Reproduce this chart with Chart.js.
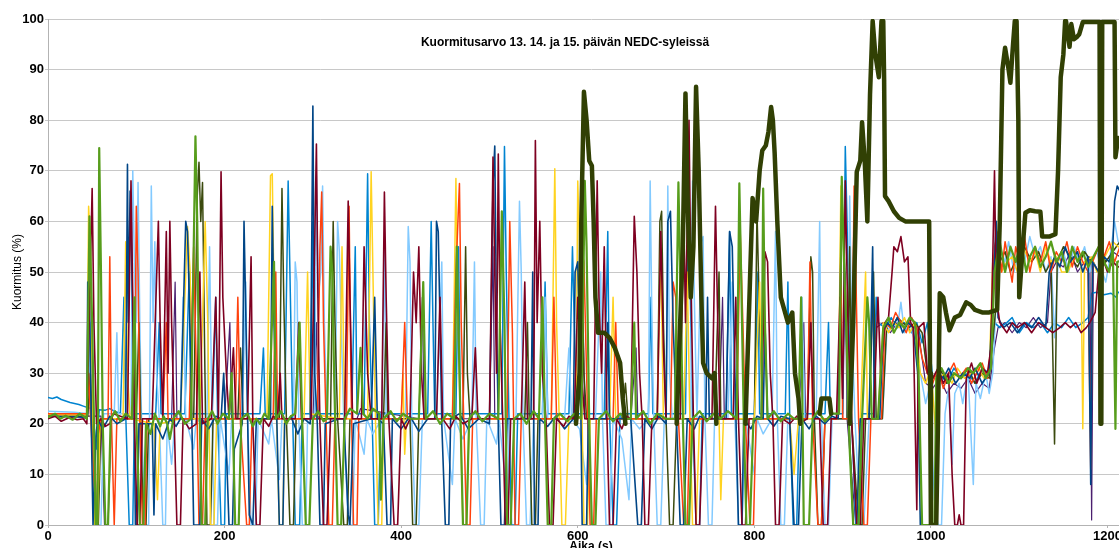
<!DOCTYPE html>
<html>
<head>
<meta charset="utf-8">
<script src="https://cdn.jsdelivr.net/npm/chart.js@4/dist/chart.umd.min.js"></script>
<style>
html,body{margin:0;padding:0;background:#fff;overflow:hidden;}
#wrap{position:relative;width:1119px;height:548px;overflow:hidden;}
#c{position:absolute;left:0;top:0;}
</style>
</head>
<body>
<div id="wrap"><canvas id="c" width="1134" height="560"></canvas></div>
<script>
// ---- chart texts ----
const chartTitle = "Kuormitusarvo 13. 14. ja 15. päivän NEDC-syleissä";
const xTitle = "Aika (s)";
const yTitle = "Kuormitus (%)";
const xTicks = [0, 200, 400, 600, 800, 1000, 1200];
const yTicks = [0, 10, 20, 30, 40, 50, 60, 70, 80, 90, 100];

// ---- series values: flat [time, value] pairs (null = no visible line) ----
const seriesBold = [598,20, 602,30, 604,60, 607,85.6, 610,80, 613,72, 616,71, 618,60, 620,45, 623,38, 630,38, 636,37, 642,35, 648,32, 651,25, 654,20, 655,null, 712,20, 716,40, 719,55, 722,85.3, 725,60, 728,45, 731,55, 734,86.6, 737,70, 740,45, 742,32, 746,30, 752,29, 755,30, 757,20, 758,null, 790,20, 795,48, 798,64.6, 802,60, 806,70, 809,74, 813,75, 816,77.7, 819,82.6, 821,80, 823,73.5, 826,60, 830,45, 838,40, 843,42, 846,30, 850,25, 852,20, 853,null, 874,22, 876,25, 885,25, 887,22, 888,null, 908,20, 912,40, 916,69.8, 920,72, 922,79.6, 925,72, 928,60, 931,85, 934,99.6, 937,93, 941,88.5, 944,99.6, 946,99.6, 947,88, 948,65, 952,64, 958,62, 964,60.7, 971,60, 998,60, 999,30, 1000,0, 1006,0, 1008,20, 1010,45.8, 1014,45, 1017,42, 1021,38.5, 1027,41, 1033,41.5, 1040,44, 1045,43.5, 1050,42.5, 1058,42, 1066,42, 1075,42.5, 1078,60, 1081,90, 1084,94.3, 1088,90, 1090,87.4, 1093,95, 1095,99.6, 1097,99.6, 1099,80, 1100,45, 1104,55, 1107,61.7, 1112,62.2, 1118,62, 1124,61.9, 1126,57, 1134,57, 1141,57.5, 1144,70, 1147,88.5, 1150,93, 1152,99.6, 1153,99.6, 1157,94.5, 1159,99, 1162,96, 1165,96.4, 1168,97, 1172,99.4, 1191,99.4, 1192,20, 1193,20, 1194,99.4, 1208,99.4, 1209,72.7, 1212,76.5, 1216,76, 1230,76];

const seriesGreen = [0,21.3, 8,22, 14,21, 20,21.6, 28,20.8, 36,22, 44,21, 47,61, 50,40, 52,21, 54,0, 56,0, 58,74.5, 60,50, 62,20, 65,0, 68,0, 71,21, 76,22.5, 82,20.5, 88,22, 95,21, 98,45, 100,21, 104,0, 108,0, 111,20, 116,18, 121,22, 127,19.5, 131,21.5, 135,20, 138,17, 142,21, 148,22.5, 155,20, 162,21, 167,76.8, 169,60, 171,30, 174,0, 178,0, 181,21, 186,22.5, 192,20, 198,22, 205,21, 208,30, 212,0, 216,0, 219,21, 226,22, 232,19.5, 236,21, 240,20, 245,22, 250,21, 256,52, 258,21, 264,22.5, 270,20, 275,21.5, 280,22, 285,40, 288,20, 292,0, 296,0, 300,21, 306,22.5, 312,20.5, 316,21, 320,55, 322,50, 324,30, 328,0, 332,0, 336,21, 342,23, 350,22, 354,35, 357,22, 362,21, 368,23, 375,22, 377,5, 380,21, 388,22.5, 395,20.5, 402,22, 410,21, 420,21, 425,48, 428,21, 436,22.5, 444,20, 452,22, 460,21, 463,55, 466,30, 470,0, 474,0, 477,21, 484,22.5, 492,20.5, 500,22, 510,21, 514,62, 517,40, 520,0, 524,0, 528,21, 535,22, 542,20, 550,22.5, 556,21, 560,45, 563,20, 566,0, 570,0, 573,21, 580,22, 588,20.5, 596,22, 604,21, 608,68, 610,55, 613,20, 616,0, 620,0, 624,21, 632,22.5, 640,20.5, 648,22, 655,21, 660,21, 664,40, 666,21, 674,22.5, 682,20, 690,22, 700,21, 710,21, 714,67.7, 716,50, 719,21, 722,0, 726,0, 730,21, 738,22.5, 746,20.5, 754,22, 762,21, 770,22.5, 780,21, 783,67.5, 785,50, 788,21, 791,0, 795,0, 799,21, 808,21, 810,66.5, 812,40, 815,21, 822,22.5, 830,20.5, 838,22, 845,21, 850,21, 853,45, 856,0, 862,0, 866,21, 872,22.5, 880,20.5, 888,22, 896,22, 899,68.8, 901,55, 904,40, 908,15, 912,0, 918,0, 922,21, 928,45, 930,40, 933,21, 940,21, 946,39, 952,41, 958,38, 964,40, 970,39, 976,41, 982,40, 986,30, 990,0, 1004,0, 1006,29, 1012,31, 1020,28, 1026,30, 1034,29, 1042,31, 1048,30, 1056,32, 1062,29, 1068,31, 1072,50, 1078,56, 1084,50, 1090,55, 1096,52, 1102,56, 1108,50, 1112,53, 1118,55, 1124,51, 1130,53, 1136,56, 1142,52, 1148,54, 1154,50, 1160,55, 1166,52, 1172,54, 1178,51, 1184,53, 1190,55, 1196,52, 1202,50, 1206,55, 1209,19, 1211,52, 1230,53];

const seriesMaroon = [0,21, 8,21.5, 15,20.5, 25,21.3, 33,20.8, 40,21, 44,20, 50,66.5, 52,40, 55,20, 60,21, 65,19.5, 70,20, 74,22, 90,21, 94,68, 96,45, 98,20, 101,0, 104,0, 107,21, 118,21, 125,60, 127,40, 130,21, 134,58, 136,30, 138,60, 140,40, 143,20, 146,0, 150,0, 153,21, 160,19, 168,20, 172,50, 175,20, 185,21, 190,45, 193,21, 196,69.8, 198,45, 202,30, 205,21, 210,35, 213,21, 226,21, 230,53, 232,20, 236,0, 240,0, 244,21, 250,19.5, 255,21.5, 260,21, 263,30, 265,21, 280,21, 284,40, 287,21, 298,21, 302,55, 304,75.3, 306,40, 308,20, 312,0, 316,0, 320,21, 336,21, 340,64, 342,45, 345,21, 355,21, 358,55, 362,30, 366,21, 378,21, 381,65.8, 383,45, 386,21, 392,0, 396,0, 400,21, 405,19, 410,21, 414,50, 417,40, 420,55, 423,30, 426,21, 440,21, 444,45, 447,21, 455,19, 462,21.5, 470,20, 480,21, 484,35, 487,21, 500,21, 504,72.7, 506,50, 508,30, 510,73.3, 512,40, 515,21, 518,0, 521,0, 524,21, 536,21, 540,48, 543,21, 550,21, 552,76, 554,40, 557,60, 560,30, 564,21, 568,0, 572,0, 576,21, 584,19.5, 590,21.5, 596,21, 600,45, 604,30, 608,21, 618,21, 622,68, 624,45, 627,30, 630,55, 633,21, 636,0, 640,0, 644,21, 650,19, 655,21.5, 660,21, 664,61, 667,50, 670,30, 673,21, 676,0, 680,0, 684,21, 690,21, 694,58, 697,35, 700,21, 716,21, 720,62, 722,40, 726,80, 728,50, 731,21, 734,0, 738,0, 742,21, 752,21, 756,63, 758,45, 761,21, 776,21, 779,45, 782,21, 786,0, 790,0, 794,21, 808,21, 812,54, 815,52, 818,30, 821,21, 824,0, 828,0, 832,21, 840,20, 848,21.5, 855,20.5, 860,21, 864,40, 867,21, 874,21, 878,0, 883,0, 887,21, 893,21, 897,45, 900,25, 903,68, 906,40, 910,21, 916,0, 920,0, 924,21, 935,21, 940,45, 943,30, 948,40, 952,41, 956,50, 958,55, 962,54, 966,57, 970,52, 974,53, 977,40, 980,39, 984,3, 986,39, 992,40, 996,30, 1002,29, 1008,31, 1014,28, 1020,30, 1024,10, 1027,0, 1030,0, 1032,2, 1034,0, 1037,0, 1040,29, 1046,32, 1052,28, 1058,31, 1064,30, 1068,35, 1072,70, 1074,45, 1078,40, 1086,38, 1092,40, 1098,39, 1106,40, 1114,38, 1122,40, 1130,39, 1138,38, 1146,39, 1152,40, 1158,39, 1164,40, 1170,38, 1176,39, 1180,40, 1186,42, 1190,50, 1196,52, 1200,50, 1206,52, 1212,51, 1230,52];

const seriesDarkBlue = [0,21.5, 40,21.3, 44,21, 45,48, 47,45, 49,20, 51,0, 52,0, 54,16, 56,21, 62,19, 70,21.5, 78,20, 88,21, 90,71.3, 91,40, 93,66, 95,50, 97,30, 99,0, 101,0, 103,20, 118,20, 120,2, 122,20, 130,17, 138,21, 145,19.5, 150,21, 156,60, 158,58, 160,45, 163,20, 165,0, 172,0, 174,21, 182,19, 190,21.5, 196,21, 199,30, 201,20, 205,0, 209,0, 211,15, 220,20, 222,60, 224,42, 228,2, 232,0, 236,21, 252,21, 254,63, 256,40, 259,22, 262,0, 266,0, 268,20, 275,21.5, 283,18, 290,21, 297,20, 300,82.8, 302,30, 305,20, 308,0, 312,0, 314,20, 330,21, 335,21, 340,2, 342,0, 346,20, 366,21, 370,45, 373,21, 380,20, 384,0, 388,0, 390,21, 400,19, 410,21.5, 420,18.5, 430,21, 438,21, 440,60, 442,58, 444,40, 446,20, 450,0, 454,0, 456,21, 466,22, 476,19, 488,21, 500,20, 504,67, 506,74.9, 508,40, 510,20, 513,0, 517,0, 520,21, 547,21, 549,50, 551,0, 555,0, 557,21, 566,19.5, 575,21.5, 585,19, 595,21, 597,50, 600,52, 603,30, 605,0, 610,0, 612,21, 632,21, 634,40, 636,21, 660,21, 668,0, 672,0, 676,21, 684,19, 692,21.5, 700,20, 702,60, 705,62, 708,40, 712,20, 716,0, 720,0, 724,21, 732,19, 738,21.5, 745,21, 747,45, 749,21, 768,21, 772,58, 775,55, 778,30, 782,0, 786,0, 788,21, 796,19, 803,21.5, 810,21, 812,40, 815,21, 822,19.5, 830,21.5, 840,21, 845,0, 850,0, 854,21, 862,19, 870,21.5, 880,20, 888,21.5, 895,21, 899,63, 901,58, 904,40, 907,21, 912,0, 916,0, 920,21, 930,21, 934,55, 936,21, 942,21, 946,38, 950,40, 956,39, 962,41, 968,38, 974,40, 980,39, 985,30, 988,0, 1006,0, 1008,30, 1014,29, 1020,31, 1028,28, 1036,30, 1044,29, 1050,31, 1058,28, 1066,30, 1070,45, 1074,60, 1076,41, 1082,39, 1090,40, 1098,38, 1106,40, 1114,39, 1122,41, 1130,39, 1134,50, 1140,53, 1146,51, 1152,55, 1158,52, 1166,54, 1172,50, 1178,53, 1181,8, 1183,52, 1190,50, 1196,53, 1202,52, 1206,55, 1208,64, 1211,67, 1214,66, 1230,66];

const seriesOrange = [0,22, 44,22, 46,30, 48,22, 55,0, 57,18, 60,21, 68,21, 70,53, 72,20, 75,0, 78,21, 98,21, 100,63, 102,50, 104,20, 107,0, 110,0, 112,21, 130,21, 134,40, 136,21, 160,21, 165,55, 168,30, 171,0, 175,0, 178,21, 212,21, 215,45, 218,20, 225,0, 228,0, 231,21, 255,21, 258,50, 260,21, 305,21, 308,55, 310,65.8, 312,40, 315,20, 318,0, 322,0, 325,21, 338,21, 341,63, 343,30, 346,0, 350,0, 352,21, 400,21, 404,40, 407,21, 458,21, 462,50, 466,67.5, 468,40, 471,20, 474,0, 478,0, 481,21, 520,21, 523,60, 526,38, 529,0, 533,0, 536,21, 570,21, 573,45, 576,21, 600,21, 604,55, 607,52, 610,30, 614,0, 618,0, 621,21, 640,21, 643,40, 646,21, 705,21, 708,48, 711,45, 714,21, 720,0, 724,0, 727,21, 780,21, 784,58, 787,40, 790,20, 795,0, 799,0, 802,21, 860,21, 863,52, 866,21, 872,0, 876,0, 880,21, 895,21, 898,55, 900,21, 910,21, 913,67, 915,50, 918,21, 924,0, 928,0, 932,21, 944,21, 948,40, 954,39, 960,42, 966,40, 972,38, 978,41, 984,39, 990,33, 996,30, 1002,28, 1008,31, 1014,27, 1020,30, 1026,32, 1032,29, 1040,31, 1046,28, 1052,30, 1058,32, 1064,29, 1068,35, 1072,55, 1076,58, 1080,50, 1084,56, 1088,52, 1092,48, 1096,55, 1100,52, 1106,57, 1112,50, 1118,55, 1124,52, 1130,56, 1136,50, 1142,54, 1148,52, 1154,56, 1160,51, 1166,55, 1172,52, 1178,50, 1181,11, 1183,52, 1190,55, 1196,53, 1202,56, 1208,52, 1214,55, 1230,54];

const seriesYellow = [0,21.8, 44,21.8, 46,63, 48,55, 50,30, 53,0, 56,0, 59,21, 85,21, 88,56, 90,30, 93,21, 120,20, 124,5, 127,20, 150,21, 158,59, 161,50, 163,21, 172,21, 178,60, 181,40, 184,0, 188,0, 191,21, 248,21, 252,69, 254,69.4, 256,45, 259,20, 262,0, 266,0, 268,21, 290,21, 294,50, 297,22, 330,21, 333,55, 336,21, 362,21, 366,69.8, 368,50, 371,20, 374,0, 378,0, 380,21, 400,21, 402,30, 404,14, 406,21, 458,21, 462,68.5, 464,45, 467,21, 470,0, 474,0, 477,21, 570,21, 574,70.4, 576,40, 579,21, 582,0, 586,0, 590,21, 598,21, 600,68, 602,55, 604,30, 607,0, 611,0, 614,21, 636,21, 640,45, 643,21, 690,21, 694,55, 697,21, 720,21, 724,50, 727,21, 730,0, 734,0, 738,21, 760,21, 762,5, 765,21, 800,21, 806,48, 809,21, 840,21, 845,10, 850,21, 895,21, 898,67, 901,60, 904,40, 907,21, 912,0, 916,0, 920,21, 926,50, 928,21, 940,21, 946,40, 952,38, 958,40, 964,39, 970,41, 976,38, 982,40, 988,30, 994,28, 1000,31, 1006,17, 1008,29, 1016,30, 1024,28, 1030,31, 1038,29, 1046,30, 1054,31, 1060,29, 1066,30, 1070,52, 1074,55, 1080,50, 1086,52, 1092,53, 1098,50, 1104,55, 1112,52, 1118,54, 1124,50, 1130,55, 1136,52, 1142,53, 1148,50, 1155,50, 1162,53, 1170,52, 1172,19, 1174,52, 1182,53, 1188,50, 1194,52, 1200,54, 1206,56, 1212,55, 1230,55];

const seriesLightBlue = [0,22.5, 30,22.3, 46,22, 48,40, 50,22, 56,0, 60,0, 63,22, 75,22, 78,38, 80,22, 94,22, 96,70, 98,50, 100,40, 102,67.7, 104,40, 106,20, 110,0, 114,0, 117,67, 119,40, 121,56, 123,30, 126,21, 130,0, 133,0, 135,20, 140,12, 144,21, 150,21, 153,45, 156,21, 165,15, 168,21, 174,20, 180,21, 183,55, 185,30, 188,0, 192,0, 195,21, 205,10, 208,21, 220,21, 224,48, 226,21, 230,0, 235,0, 238,21, 250,16, 253,21, 262,9, 265,21, 278,21, 280,52, 282,48, 284,21, 288,0, 292,0, 294,21, 302,21, 304,69, 306,45, 309,50, 311,67, 313,40, 316,21, 325,21, 328,60, 330,54, 332,40, 335,21, 340,0, 345,0, 348,21, 358,14, 361,21, 368,18, 378,21, 381,55, 383,21, 405,21, 408,59, 410,52, 412,21, 416,0, 420,0, 424,21, 440,21, 446,52, 448,21, 458,8, 461,21, 470,17, 480,21, 483,52, 485,21, 490,0, 494,0, 497,21, 508,16, 511,21, 520,5, 523,21, 530,21, 534,64, 536,50, 538,21, 542,0, 546,0, 550,21, 560,21, 563,45, 566,21, 585,21, 590,35, 593,21, 602,19, 610,8, 613,21, 620,21, 626,50, 628,21, 632,0, 636,0, 640,21, 650,17, 658,5, 661,21, 670,19, 680,21, 682,68, 684,40, 686,21, 690,0, 694,0, 698,21, 700,21, 702,67, 704,30, 707,21, 728,21, 730,68, 732,45, 735,21, 740,56, 742,57, 744,21, 748,0, 752,0, 755,21, 770,21, 775,48, 778,21, 782,0, 786,0, 790,21, 800,10, 803,21, 810,18, 820,21, 824,58, 826,21, 830,0, 834,0, 838,21, 850,21, 854,45, 857,21, 870,21, 874,60, 876,21, 880,0, 884,0, 888,21, 905,21, 908,65, 910,40, 914,21, 920,0, 924,0, 930,21, 945,21, 950,38, 956,40, 962,39, 966,44, 970,38, 976,40, 982,36, 988,30, 994,24, 998,27, 1004,5, 1008,0, 1012,0, 1016,22, 1020,27, 1024,12, 1027,26, 1032,28, 1036,24, 1042,30, 1048,8, 1051,28, 1056,25, 1062,30, 1066,26, 1070,30, 1074,45, 1078,55, 1084,52, 1088,56, 1094,50, 1100,54, 1106,52, 1112,57, 1118,53, 1124,55, 1130,50, 1136,53, 1140,37, 1144,52, 1150,54, 1156,50, 1162,55, 1168,52, 1174,55, 1180,50, 1184,53, 1188,54, 1194,50, 1198,48, 1202,52, 1208,60, 1212,56, 1230,55];

const seriesOlive = [0,21.5, 45,21.5, 48,30, 50,21, 54,0, 57,0, 60,21, 100,21, 103,40, 105,21, 108,0, 111,0, 114,21, 165,21, 169,65, 171,71.7, 173,60, 175,67.7, 177,40, 180,0, 184,0, 187,21, 215,21, 218,35, 221,21, 262,21, 265,66.5, 267,45, 270,21, 274,0, 278,0, 281,21, 320,21, 323,60, 325,40, 328,21, 335,0, 339,0, 342,21, 380,21, 383,40, 385,21, 410,21, 413,0, 417,0, 420,21, 470,21, 473,55, 475,30, 478,21, 540,21, 543,40, 545,21, 548,0, 552,0, 555,21, 600,21, 605,50, 607,30, 610,21, 650,21, 654,28, 657,21, 690,21, 693,60, 695,62, 697,40, 700,21, 704,0, 708,0, 712,21, 755,21, 760,50, 762,21, 800,21, 803,62, 806,40, 810,21, 860,21, 864,53, 866,50, 868,21, 872,0, 876,0, 880,21, 905,21, 908,55, 910,21, 918,0, 922,0, 926,21, 930,21, 935,50, 938,21, 945,21, 950,40, 956,39, 962,41, 968,40, 975,39, 982,40, 990,38, 996,30, 1002,29, 1010,31, 1018,28, 1026,30, 1034,29, 1042,31, 1050,28, 1058,30, 1066,29, 1072,40, 1078,52, 1084,54, 1090,50, 1098,53, 1106,55, 1114,52, 1122,54, 1130,50, 1136,52, 1140,16, 1143,52, 1150,55, 1158,53, 1166,51, 1174,54, 1182,52, 1190,55, 1198,52, 1206,54, 1214,56, 1230,55];

const seriesBlue = [0,25.2, 5,25, 10,25.3, 15,24.8, 20,24.5, 25,24.2, 30,24, 35,23.8, 40,23.5, 45,23.2, 50,23, 55,15, 58,22.8, 65,22.7, 70,23, 75,22.5, 80,22.2, 82,22, 86,45, 88,22, 92,0, 96,0, 98,22, 122,22, 126,40, 128,22, 155,22, 160,50, 162,22, 186,22, 190,45, 192,22, 196,0, 200,0, 202,22, 240,22, 244,35, 246,22, 268,22, 272,68, 274,50, 277,22, 280,0, 285,0, 288,22, 297,22, 300,60, 302,22, 344,22, 348,55, 350,22, 358,22, 362,69.4, 364,40, 367,22, 370,0, 374,0, 377,22, 430,22, 434,60, 436,40, 438,22, 462,22, 465,55, 467,22, 514,22, 517,74.8, 519,50, 522,22, 525,0, 529,0, 532,22, 560,22, 563,48, 566,22, 590,22, 594,55, 596,40, 599,22, 630,22, 634,58, 636,22, 640,0, 644,0, 648,22, 680,22, 683,45, 685,22, 722,22, 725,60, 727,50, 730,22, 734,0, 738,0, 741,22, 768,22, 772,58, 774,22, 800,22, 804,50, 806,22, 835,22, 838,48, 840,22, 844,0, 848,0, 851,22, 880,22, 884,40, 886,22, 900,22, 903,74.8, 905,60, 907,40, 910,22, 915,0, 919,0, 922,22, 935,22, 938,45, 940,40, 948,39, 955,41, 962,39, 970,40, 978,38, 984,40, 990,36, 996,40, 1002,29, 1010,30, 1018,28, 1026,31, 1034,29, 1042,30, 1050,28, 1058,31, 1066,30, 1072,40, 1078,39, 1086,40, 1092,41, 1100,38, 1108,40, 1116,39, 1124,40, 1132,38, 1140,40, 1148,39, 1156,41, 1164,39, 1172,40, 1178,41, 1182,45.8, 1188,46, 1196,45.5, 1204,45.8, 1210,45, 1212,46, 1230,46];

const seriesPurple = [0,21.5, 60,21.5, 64,0, 68,0, 72,21, 140,21, 144,48, 146,21, 200,21, 206,40, 208,21, 300,21, 304,40, 306,21, 350,21, 354,23, 420,21, 424,45, 426,21, 500,21, 504,55, 506,21, 600,21, 606,40, 608,21, 660,21, 666,35, 668,21, 760,21, 764,45, 766,21, 850,21, 856,40, 858,21, 900,21, 903,50, 905,21, 915,0, 919,0, 922,21, 930,21, 934,45, 938,39, 946,40, 954,38, 962,40, 970,39, 978,41, 986,38, 994,28, 1002,27, 1010,29, 1018,26, 1026,28, 1034,27, 1042,29, 1050,26, 1058,28, 1066,27, 1072,35, 1076,39, 1084,40, 1092,38, 1100,40, 1108,39, 1116,41, 1124,39, 1132,40, 1136,50, 1142,52, 1150,51, 1158,54, 1166,50, 1174,52, 1180,53, 1182,1, 1184,52, 1190,50, 1198,52, 1206,54, 1214,53, 1230,53];

function pairs(a) { const o = []; for (let i = 0; i < a.length; i += 2) o.push({x: a[i], y: a[i + 1]}); return o; }

const FONT = "'Liberation Sans', Arial, sans-serif";
function ds(data, color, width) {
  return { data: pairs(data), borderColor: color, backgroundColor: color, borderWidth: width,
           pointRadius: 0, tension: 0, fill: false, spanGaps: false,
           borderJoinStyle: 'round', borderCapStyle: 'round' };
}

const titlePlugin = {
  id: 'innerTitle',
  afterDraw(chart) {
    const ctx = chart.ctx;
    ctx.save();
    ctx.font = "bold 12px " + FONT;
    ctx.fillStyle = '#000';
    ctx.textAlign = 'center';
    ctx.textBaseline = 'middle';
    ctx.fillText(chartTitle, 565, 43);
    ctx.restore();
  }
};

new Chart(document.getElementById('c'), {
  type: 'line',
  data: {
    datasets: [
      ds(seriesBold, '#314004', 4.5),
      ds(seriesGreen, '#579d1c', 2.2),
      ds(seriesMaroon, '#7e0021', 1.6),
      ds(seriesDarkBlue, '#004586', 1.6),
      ds(seriesOrange, '#ff420e', 1.5),
      ds(seriesYellow, '#ffd320', 1.5),
      ds(seriesOlive, '#3b4a0e', 1.5),
      ds(seriesLightBlue, '#83caff', 1.5),
      ds(seriesBlue, '#0084d1', 1.5),
      ds(seriesPurple, '#4b1f6f', 1.2)
    ]
  },
  options: {
    responsive: false,
    animation: false,
    devicePixelRatio: 1,
    layout: { padding: { top: 19, right: 0, left: 0, bottom: 0 } },
    plugins: { legend: { display: false }, tooltip: { enabled: false }, title: { display: false } },
    scales: {
      x: {
        type: 'linear', min: 0, max: 1230,
        afterFit(s) { s.height = 35; },
        afterBuildTicks(s) { s.ticks = xTicks.map(v => ({value: v})); },
        grid: { display: true, drawOnChartArea: false, drawTicks: true, tickLength: 3, color: '#b3b3b3' },
        border: { color: '#b3b3b3' },
        ticks: { font: { family: FONT, size: 13, weight: 'bold' }, color: '#000', padding: 1, maxRotation: 0, autoSkip: false,
                 callback: v => String(v) },
        title: { display: true, text: xTitle, color: '#000', font: { family: FONT, size: 12, weight: 'bold' }, padding: { top: 0, bottom: 6 } }
      },
      y: {
        min: 0, max: 100,
        afterFit(s) { s.width = 48; },
        afterBuildTicks(s) { s.ticks = yTicks.map(v => ({value: v})); },
        grid: { color: '#c8c8c8', tickLength: 3, drawTicks: true },
        border: { color: '#b3b3b3' },
        ticks: { font: { family: FONT, size: 13, weight: 'bold' }, color: '#000', padding: 1, callback: v => String(v) },
        title: { display: true, text: yTitle, color: '#000', font: { family: FONT, size: 12 }, padding: { top: 10, bottom: 0 } }
      }
    }
  },
  plugins: [titlePlugin]
});
</script>
</body>
</html>
